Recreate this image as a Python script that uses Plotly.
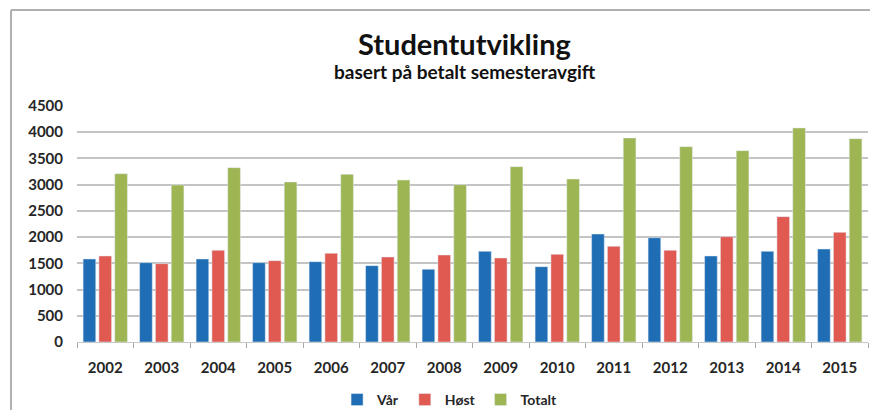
import plotly.graph_objects as go

# Student numbers per year
years = ["2002", "2003", "2004", "2005", "2006", "2007", "2008",
         "2009", "2010", "2011", "2012", "2013", "2014", "2015"]
var = [1583, 1513, 1583, 1513, 1532, 1456, 1386,
       1729, 1436, 2059, 1989, 1640, 1729, 1773]
host = [1640, 1494, 1748, 1551, 1691, 1621, 1659,
        1602, 1672, 1824, 1748, 2008, 2390, 2091]
totalt = [3210, 2994, 3324, 3051, 3197, 3089, 3000,
          3343, 3108, 3890, 3725, 3648, 4081, 3877]
y_ticks = [0, 500, 1000, 1500, 2000, 2500, 3000, 3500, 4000, 4500]

FONT = "Lato, 'Open Sans', sans-serif"
TEXT = "#262626"

fig = go.Figure()
fig.add_trace(go.Bar(name="Vår", x=years, y=var, marker_color="#1E6DB5"))
fig.add_trace(go.Bar(name="Høst", x=years, y=host, marker_color="#E05A52"))
fig.add_trace(go.Bar(name="Totalt", x=years, y=totalt, marker_color="#9DB552"))

# page body adds 8px margin, so canvas is 16px smaller than the window
fig.update_layout(
    width=862, height=402,
    margin=dict(l=69, r=2, t=98, b=68, autoexpand=False),
    paper_bgcolor="white", plot_bgcolor="white",
    font=dict(family=FONT, color=TEXT, size=14),
    barmode="group", bargap=0.16, bargroupgap=0.2,
    showlegend=True,
    legend=dict(orientation="h", x=0.471, xanchor="center",
                yref="container", y=0.025, yanchor="middle",
                font=dict(family=FONT, size=14, color=TEXT, weight="bold"),
                itemwidth=30, traceorder="normal"),
)

fig.add_annotation(text="<b>Studentutvikling</b>", xref="paper", yref="paper",
                   x=0.49, y=1.265, xanchor="center", yanchor="middle", showarrow=False,
                   font=dict(family=FONT, size=29, color="#111111"))
fig.add_annotation(text="<b>basert på betalt semesteravgift</b>", xref="paper", yref="paper",
                   x=0.49, y=1.145, xanchor="center", yanchor="middle", showarrow=False,
                   font=dict(family=FONT, size=19, color="#111111"))

fig.update_yaxes(
    range=[0, 4500], tickvals=y_ticks,
    showgrid=True, gridcolor="#C4C4C4", gridwidth=1.5,
    zeroline=False, showline=False,
    tickfont=dict(family=FONT, size=15, color=TEXT, weight="bold"),
    ticks="", ticklabelstandoff=13,
)
fig.update_xaxes(
    showline=True, linecolor="#C8C8C8", linewidth=1,
    ticks="outside", ticklen=5, tickcolor="#A8A8A8", tickson="boundaries",
    tickfont=dict(family=FONT, size=15, color=TEXT, weight="bold"),
    ticklabelstandoff=12,
)

# Chart frame lines on left and top
fig.add_shape(type="line", xref="paper", yref="paper", x0=-0.0834, x1=1.0025, y0=1.407, y1=1.407,
              line=dict(color="#B0B0B0", width=2))
fig.add_shape(type="line", xref="paper", yref="paper", x0=-0.0834, x1=-0.0834, y0=1.407, y1=-0.29,
              line=dict(color="#B0B0B0", width=2))

fig.write_html("out.html")
